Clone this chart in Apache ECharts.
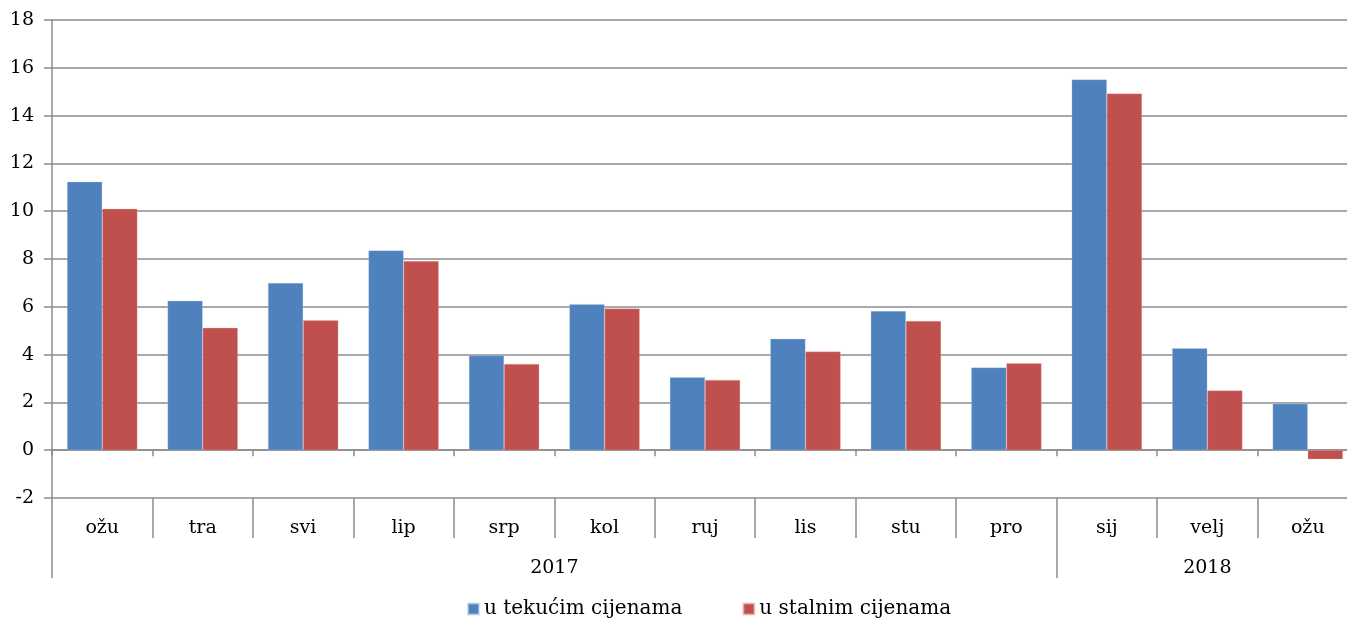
<!DOCTYPE html>
<html>
<head>
    <meta charset="utf-8">
    <title>Promet u trgovini na malo</title>
    <script src="https://cdn.jsdelivr.net/npm/echarts@6.0.0/dist/echarts.min.js"></script>
    <style>
        html, body { margin: 0; padding: 0; background: #fff; }
        #chart { width: 1347px; height: 619px; }
    </style>
</head>
<body>
    <div id="chart"></div>
    <script>
        // podaci
        const months = ['ožu', 'tra', 'svi', 'lip', 'srp', 'kol', 'ruj', 'lis', 'stu', 'pro', 'sij', 'velj', 'ožu'];
        const years = ['2017', '2018'];
        const yearStart = [0, 10];   // indeks prvog mjeseca u godini
        const yearLength = [10, 3];
        const tekuce = [11.23, 6.25, 7.0, 8.36, 3.96, 6.11, 3.05, 4.66, 5.82, 3.46, 15.51, 4.27, 1.94];
        const stalne = [10.1, 5.12, 5.44, 7.92, 3.61, 5.93, 2.94, 4.13, 5.41, 3.64, 14.92, 2.5, -0.38];

        const font = 'DejaVu Serif';
        const gray = '#8c8c8c';

        const yearCenters = years.map((y, i) => yearStart[i] + yearLength[i] / 2);
        const yearBounds = [0].concat(yearStart.slice(1), [months.length]);

        const chart = echarts.init(document.getElementById('chart'));
        chart.setOption({
            animation: false,
            grid: { left: 52, top: 20, width: 1306, height: 478, outerBoundsMode: 'none', containLabel: false },
            legend: {
                left: 462,
                top: 594,
                icon: 'rect',
                itemWidth: 11,
                itemHeight: 11,
                itemGap: 60,
                textStyle: { fontFamily: font, fontSize: 20, color: '#000' },
                data: ['u tekućim cijenama', 'u stalnim cijenama']
            },
            xAxis: [
                {
                    type: 'category',
                    data: months,
                    position: 'bottom',
                    axisLine: { onZero: true, lineStyle: { color: gray, width: 1.5 } },
                    axisTick: { show: true, length: 6, lineStyle: { color: gray, width: 1.5 } },
                    axisLabel: { show: false },
                    splitLine: { show: false }
                },
                {
                    type: 'category',
                    data: months,
                    position: 'bottom',
                    offset: 0,
                    axisLine: { show: false, onZero: false },
                    axisTick: { show: true, length: 40, lineStyle: { color: gray, width: 1.5 } },
                    axisLabel: { fontFamily: font, fontSize: 19, color: '#000', margin: 21 },
                    splitLine: { show: false }
                },
                {
                    type: 'value',
                    min: 0,
                    max: months.length,
                    position: 'bottom',
                    offset: 40,
                    axisLine: { show: false, onZero: false },
                    axisTick: { show: true, length: 40, customValues: yearBounds, lineStyle: { color: gray, width: 1.5 } },
                    axisLabel: {
                        fontFamily: font, fontSize: 19, color: '#000', margin: 21,
                        customValues: yearCenters,
                        formatter: v => years[yearCenters.indexOf(v)] || ''
                    },
                    splitLine: { show: false }
                }
            ],
            yAxis: {
                type: 'value',
                min: -2,
                max: 18,
                interval: 2,
                axisLine: { show: true, lineStyle: { color: gray, width: 1.5 } },
                axisTick: { show: true, length: 8, lineStyle: { color: gray, width: 1.5 } },
                axisLabel: { fontFamily: font, fontSize: 19, color: '#000', margin: 18 },
                splitLine: { lineStyle: { color: gray, width: 1.5 } }
            },
            series: [
                {
                    name: 'u tekućim cijenama',
                    type: 'bar',
                    data: tekuce,
                    barGap: '0%',
                    barCategoryGap: '30%',
                    itemStyle: { color: '#4f81bd', borderColor: 'rgba(190,210,235,0.6)', borderWidth: 0.5 }
                },
                {
                    name: 'u stalnim cijenama',
                    type: 'bar',
                    data: stalne,
                    itemStyle: { color: '#c0504d', borderColor: 'rgba(235,185,185,0.6)', borderWidth: 0.5 }
                }
            ]
        });

        window.addEventListener('resize', () => chart.resize());
    </script>
</body>
</html>
